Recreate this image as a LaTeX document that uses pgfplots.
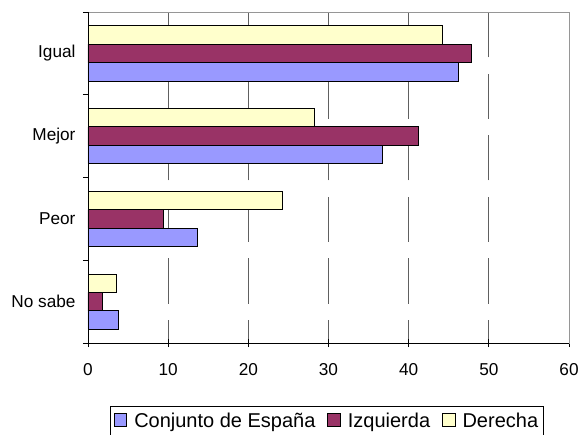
\documentclass[border=0pt]{standalone}
\usepackage{pgfplots}
\pgfplotsset{compat=1.18}
\usepackage{fontspec}
\setmainfont{Liberation Sans}
\definecolor{cEsp}{HTML}{9999FF}
\definecolor{cIzq}{HTML}{993366}
\definecolor{cDer}{HTML}{FFFFCC}
\definecolor{cGrid}{HTML}{606060}
\definecolor{cBox}{HTML}{969696}
\begin{document}
\begin{tikzpicture}
\useasboundingbox (-88bp,-92bp) rectangle (490bp,343bp);
\begin{axis}[
  at={(0,0)}, anchor=south west, scale only axis,
  width=481bp, height=331bp,
  xbar, bar width=18.4bp,
  xmin=0, xmax=60, ymin=-0.5, ymax=3.5,
  xtick={0,10,...,60},
  ytick={0,1,2,3},
  yticklabels={No sabe, Peor, Mejor, Igual},
  minor ytick={-0.5,0.5,1.5,2.5,3.5},
  major y tick style={draw=none},
  minor y tick style={black, line width=0.9bp},
  minor tick length=5bp,
  major tick length=8bp,
  xtick align=center,
  ytick align=outside,
  xtick pos=bottom, ytick pos=left,
  x tick style={black, line width=0.9bp},
  /pgf/number format/assume math mode=true,
  tick label style={font=\fontsize{17.2bp}{20bp}\selectfont},
  yticklabel style={xshift=-1bp},
  xticklabel style={yshift=-13bp},
  xmajorgrids,
  x grid style={cGrid, line width=0.9bp, dash pattern=on 45bp off 16.5bp, dash phase=22bp},
  axis line style={cBox, line width=0.9bp},
  legend columns=3,
  legend style={at={(0.5,0)}, anchor=north, xshift=-1.5bp, yshift=-63bp,
    draw=black, line width=0.9bp, inner xsep=3bp, inner ysep=5bp,
    font=\fontsize{20bp}{23bp}\selectfont,
    /tikz/every odd column/.append style={column sep=5bp},
    /tikz/every even column/.append style={column sep=10bp}},
  legend image code/.code={\draw[#1, draw=black, line width=0.9bp] (0bp,-5bp) rectangle (12.5bp,7.5bp);},
]
\addplot[fill=cEsp, draw=black, line width=0.9bp, bar shift=-18.4bp] coordinates {(46.2,3) (36.7,2) (13.6,1) (3.8,0)};
\addplot[fill=cIzq, draw=black, line width=0.9bp, bar shift=0bp] coordinates {(47.8,3) (41.2,2) (9.4,1) (1.75,0)};
\addplot[fill=cDer, draw=black, line width=0.9bp, bar shift=18.4bp] coordinates {(44.2,3) (28.2,2) (24.2,1) (3.6,0)};
\legend{Conjunto de España, Izquierda, Derecha}
\draw[black, line width=0.9bp] (axis cs:0,3.5) -- (axis cs:0,-0.5) -- (axis cs:60,-0.5);
\end{axis}
\end{tikzpicture}
\end{document}
